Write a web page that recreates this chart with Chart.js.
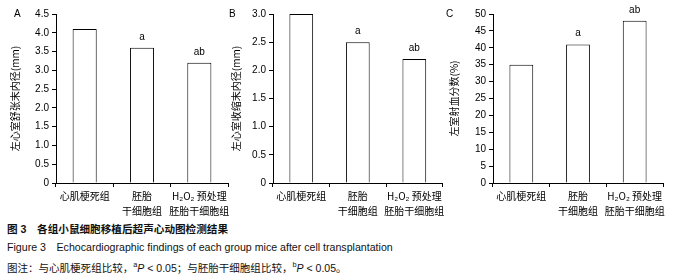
<!DOCTYPE html>
<html>
<head>
<meta charset="utf-8">
<script src="https://cdn.jsdelivr.net/npm/chart.js@4.4.1/dist/chart.umd.min.js"></script>
<style>
body { margin: 0; width: 677px; height: 280px; background: #fff; position: relative; overflow: hidden;
       font-family: "Liberation Sans", "Noto Sans CJK SC", sans-serif; color: #000; }
.panel { position: absolute; top: 0; }
.tag { position: absolute; top: 8px; font-size: 10px; }
.cap { position: absolute; left: 7px; font-size: 10px; white-space: nowrap; color: #111; line-height: 14px; }
</style>
</head>
<body>
<canvas id="cA" class="panel" style="left:0px" width="232" height="220"></canvas>
<canvas id="cB" class="panel" style="left:225px" width="222" height="220"></canvas>
<canvas id="cC" class="panel" style="left:447px" width="230" height="220"></canvas>
<div class="tag" style="left:14px">A</div>
<div class="tag" style="left:229px">B</div>
<div class="tag" style="left:446px">C</div>
<div class="cap" data-w="221" style="top:222px;font-weight:bold">图 3　各组小鼠细胞移植后超声心动图检测结果</div>
<div class="cap" data-w="386" style="top:240px">Figure 3　Echocardiographic findings of each group mice after cell transplantation</div>
<div class="cap" data-w="340" style="top:258px">图注：与心肌梗死组比较，<sup style="font-size:0.7em">a</sup><i>P</i> &lt; 0.05；与胚胎干细胞组比较，<sup style="font-size:0.7em">b</sup><i>P</i> &lt; 0.05。</div>
<script>
// 数据
const grupos = ['心肌梗死组', ['胚胎', '干细胞组'], ['H₂O₂ 预处理', '胚胎干细胞组']];
const lvedd = [4.1, 3.6, 3.2];   // 左心室舒张末内径
const lvesd = [3.0, 2.5, 2.2];   // 左心室收缩末内径
const lvef = [35, 41, 48];       // 左室射血分数
const marcas = ['', 'a', 'ab'];

const fuenteNum = { family: '"Liberation Sans", "Noto Sans CJK SC", sans-serif', size: 10 };
const fuenteCjk = { family: '"Noto Sans CJK SC", sans-serif', size: 10 };

// ajustar el ancho del pie de figura
document.querySelectorAll('.cap').forEach(el => {
    const objetivo = parseFloat(el.dataset.w);
    const w = el.getBoundingClientRect().width;
    el.style.fontSize = (10 * objetivo / w).toFixed(2) + 'px';
});

const sigPlugin = {
    id: 'sig',
    afterDatasetsDraw(chart) {
        const ctx = chart.ctx;
        const meta = chart.getDatasetMeta(0);
        ctx.save();
        ctx.font = '10px "Liberation Sans"';
        ctx.textAlign = 'center';
        ctx.textBaseline = 'alphabetic';
        ctx.fillStyle = '#000';
        meta.data.forEach((bar, i) => {
            if (marcas[i]) ctx.fillText(marcas[i], bar.x, bar.y - 8);
        });
        ctx.restore();
    }
};

function crearPanel(id, valores, titulo, max, paso, anchoEje, padTitulo, padDer, decimales) {
    const ctx = document.getElementById(id).getContext('2d');
    return new Chart(ctx, {
        type: 'bar',
        data: {
            labels: grupos,
            datasets: [{
                data: valores,
                backgroundColor: '#fff',
                borderColor: '#000',
                borderWidth: 1,
                categoryPercentage: 1,
                barPercentage: 0.42
            }]
        },
        options: {
            responsive: false,
            animation: false,
            devicePixelRatio: 1,
            layout: { padding: { left: 0, right: padDer, top: 14, bottom: 0 } },
            plugins: { legend: { display: false }, tooltip: { enabled: false } },
            scales: {
                x: {
                    grid: { offset: true, drawOnChartArea: false, tickLength: 4, color: '#000' },
                    border: { color: '#000' },
                    ticks: { color: '#000', font: { ...fuenteCjk, lineHeight: 1.5 }, padding: 2, maxRotation: 0, autoSkip: false },
                    afterFit: s => { s.height = 37; }
                },
                y: {
                    min: 0, max: max,
                    grid: { drawOnChartArea: false, tickLength: 4, color: '#000' },
                    border: { color: '#000' },
                    ticks: {
                        stepSize: paso, color: '#000', font: fuenteNum, padding: 3,
                        callback: v => v === 0 ? '0' : v.toFixed(decimales)
                    },
                    title: { display: true, text: titulo, color: '#000', font: fuenteCjk, padding: { top: padTitulo, bottom: 0 } },
                    afterFit: s => { s.width = anchoEje; }
                }
            }
        },
        plugins: [sigPlugin]
    });
}

crearPanel('cA', lvedd, '左心室舒张末内径(mm)', 4.5, 0.5, 56, 9, 4, 1);
crearPanel('cB', lvesd, '左心室收缩末内径(mm)', 3.0, 0.5, 48, 5, 4, 1);
crearPanel('cC', lvef, '左室射血分数(%)', 50, 5, 46, 1, 14, 0);
</script>
</body>
</html>
